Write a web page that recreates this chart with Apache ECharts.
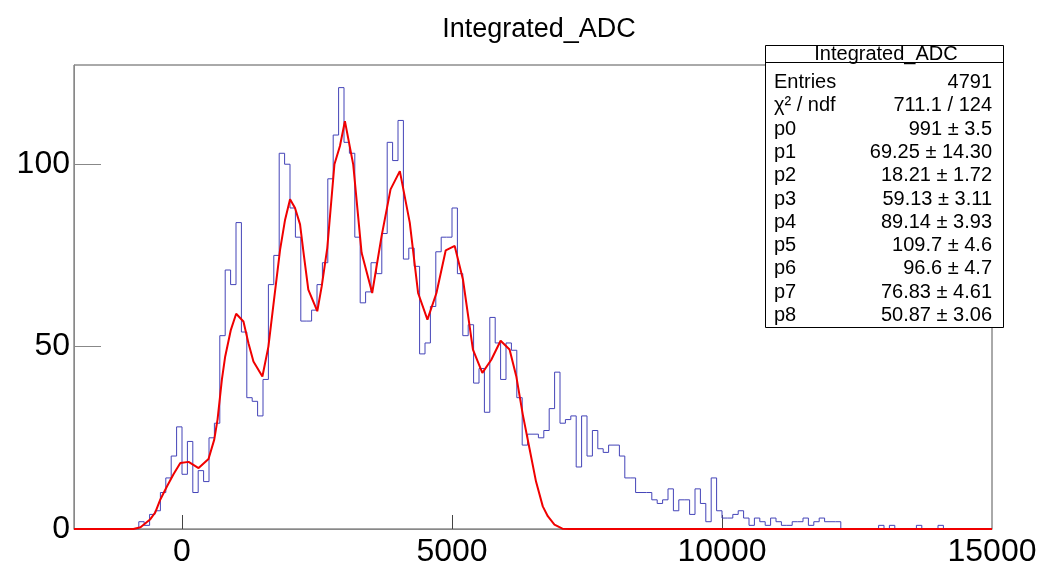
<!DOCTYPE html>
<html>
<head>
<meta charset="utf-8">
<script src="https://cdn.jsdelivr.net/npm/echarts@6/dist/echarts.min.js"></script>
<style>
html,body{margin:0;padding:0;background:#fff;}
#chart{width:1040px;height:564px;}
</style>
</head>
<body>
<div id="chart"></div>
<script>
// ---- data ----
const chartTitle = 'Integrated_ADC';
const xMin = -2000;
const xMax = 15000;
const binWidth = 100;
// histogram counts, one per 100-wide bin from -2000 to 15000
const counts = [
  0,0,0,0,0,0,0,0,0,0,
  0,0,2,1,4,5,10,14,20,28,
  15,24,10,16,13,25,29,53,71,67,
  84,54,36,35,31,41,67,75,103,100,
  88,80,57,57,60,67,73,96,108,121,
  106,103,80,62,65,73,70,81,106,101,
  112,74,77,72,48,51,61,76,80,80,
  88,70,53,56,40,44,32,58,51,41,
  51,49,36,23,26,26,25,27,33,43,
  29,30,31,17,31,20,27,22,21,23,
  23,20,14,14,10,10,10,8,7,8,
  11,5,8,8,4,11,7,2,14,5,
  3,3,4,5,3,1,3,2,1,3,
  2,1,1,2,2,3,1,2,3,2,
  2,2,0,0,0,0,0,0,0,1,
  0,1,0,0,0,0,1,0,0,0,
  1,0,0,0,0,0,0,0,0,0
];
// fit curve points
const fitX = [-2000,-900,-769,-677,-586,-493,-401,-277,-155,-31,122,307,491,597,658,739,800,905,1003,1138,1231,1323,1489,1600,1711,1816,1909,2001,2093,2186,2260,2339,2505,2587,2690,2823,2925,3017,3171,3326,3522,3696,3862,4034,4218,4372,4545,4712,4884,5050,5203,5388,5562,5728,5900,6066,6190,6312,6436,6556,6681,6774,6897,7045,7175,15000];
const fitY = [0,0,0.5,1.6,2.7,4.6,8.1,11.7,15.1,18.1,18.4,16.7,19.2,24.5,30,41,47.3,54.6,59,56.9,50.9,45.9,41.8,50,63.7,76.5,84.8,90.4,88,83.5,74.7,65.6,59.7,66.5,77,100,105,111.8,99.9,75.7,64.7,80.3,93.1,98.1,84,64.7,57.4,64.7,76.4,77.6,68.4,49.2,42.8,46.4,51.6,49.2,41.9,31.3,22,13,6.2,3.5,1.2,0.1,0,0];
const yTicks = [0, 50, 100];
const xTicks = [0, 5000, 10000];
const xLabels = [0, 5000, 10000, 15000];
const yMax = 127.2;
const statsHeader = 'Integrated_ADC';
const statsLabels = ['Entries', 'χ² / ndf', 'p0', 'p1', 'p2', 'p3', 'p4', 'p5', 'p6', 'p7', 'p8'];
const statsValues = ['4791', '711.1 / 124', '991 ± 3.5', '69.25 ± 14.30', '18.21 ± 1.72', '59.13 ± 3.11', '89.14 ± 3.93', '109.7 ± 4.6', '96.6 ± 4.7', '76.83 ± 4.61', '50.87 ± 3.06'];

// ---- build ----
const histData = counts.map((c, i) => [xMin + i * binWidth, c]);
histData.push([xMax, counts[counts.length - 1]]);
const fitData = fitX.map((x, i) => [x, fitY[i]]);

const FONT = '"Liberation Sans", Arial, Helvetica, sans-serif';
const box = {x: 765, y: 45, w: 238, h: 282, head: 17, row0: 82.5, rowStep: 23.3, lx: 774, rx: 992};
const graphics = [
  {type: 'rect', z: 100, shape: {x: box.x + 0.5, y: box.y + 0.5, width: box.w, height: box.h},
   style: {fill: '#fff', stroke: '#000', lineWidth: 1}},
  {type: 'line', z: 101, shape: {x1: box.x, y1: box.y + box.head + 0.5, x2: box.x + box.w, y2: box.y + box.head + 0.5},
   style: {stroke: '#000', lineWidth: 1}},
  {type: 'text', z: 102, x: box.x + box.w / 2 + 2, y: box.y + box.head / 2 + 1,
   style: {text: statsHeader, font: '20px ' + FONT, fill: '#000', align: 'center', verticalAlign: 'middle'}}
];
statsLabels.forEach((lab, i) => {
  const yy = box.row0 + i * box.rowStep;
  graphics.push({type: 'text', z: 102, x: box.lx, y: yy,
    style: {text: lab, font: '20px ' + FONT, fill: '#000', align: 'left', verticalAlign: 'middle'}});
  graphics.push({type: 'text', z: 102, x: box.rx, y: yy,
    style: {text: statsValues[i], font: '20px ' + FONT, fill: '#000', align: 'right', verticalAlign: 'middle'}});
});

const chart = echarts.init(document.getElementById('chart'), null, {renderer: 'canvas'});
chart.setOption({
  animation: false,
  backgroundColor: '#fff',
  textStyle: {fontFamily: FONT},
  title: {
    text: chartTitle, left: 534, top: 11, textAlign: 'center',
    textStyle: {fontFamily: FONT, fontSize: 27, fontWeight: 'normal', color: '#000'}
  },
  grid: {left: 74, right: 48, top: 65, bottom: 35, show: true, borderColor: '#555', borderWidth: 1,
    backgroundColor: 'transparent', containLabel: false, outerBoundsMode: 'none'},
  xAxis: {
    type: 'value', min: xMin, max: xMax,
    splitLine: {show: false},
    axisLine: {show: true, onZero: false, lineStyle: {color: '#888', width: 1}},
    axisTick: {show: true, inside: true, length: 14, customValues: xTicks, lineStyle: {color: '#444'}},
    axisLabel: {show: true, customValues: xLabels, margin: 7, fontSize: 32, color: '#000', fontFamily: FONT,
      formatter: v => String(v), hideOverlap: false},
    minorTick: {show: false}
  },
  yAxis: {
    type: 'value', min: 0, max: yMax,
    splitLine: {show: false},
    axisLine: {show: true, onZero: false, lineStyle: {color: '#888', width: 1}},
    axisTick: {show: true, inside: true, length: 27, customValues: yTicks, lineStyle: {color: '#888'}},
    axisLabel: {show: true, customValues: yTicks, margin: 4, fontSize: 32, color: '#000', fontFamily: FONT,
      formatter: v => String(v), hideOverlap: false}
  },
  series: [
    {
      name: 'hist', type: 'line', step: 'end', data: histData, showSymbol: false, symbol: 'none',
      lineStyle: {color: '#4444b8', width: 1}, z: 3, silent: true
    },
    {
      name: 'fit', type: 'line', data: fitData, showSymbol: false, symbol: 'none', smooth: false,
      lineStyle: {color: '#f00000', width: 2}, z: 4, silent: true
    }
  ],
  graphic: graphics
});
</script>
</body>
</html>
